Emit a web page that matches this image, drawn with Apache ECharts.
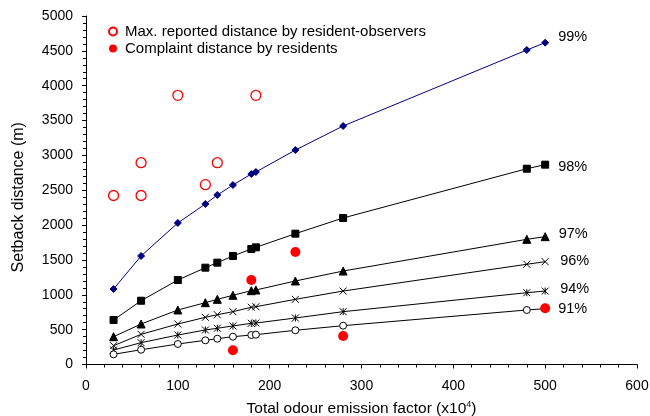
<!DOCTYPE html>
<html><head><meta charset="utf-8">
<script src="https://cdn.jsdelivr.net/npm/echarts@6/dist/echarts.min.js"></script>
<style>html,body{margin:0;padding:0;background:#fff}#c{width:650px;height:416px}</style>
</head><body><div id="c"></div>
<script>
const emission = [30, 60, 100, 130, 143, 160, 180, 185, 228, 280, 480, 500];
const s99 = [1083, 1557, 2031, 2303, 2432, 2575, 2733, 2762, 3077, 3422, 4512, 4617];
const s98 = [638, 915, 1212, 1389, 1461, 1557, 1657, 1681, 1877, 2102, 2809, 2867];
const s97 = [399, 581, 782, 887, 935, 993, 1059, 1069, 1198, 1341, 1796, 1834];
const s96 = [270, 433, 581, 677, 714, 758, 821, 829, 935, 1054, 1438, 1475];
const s94 = [208, 313, 423, 495, 520, 553, 591, 595, 667, 758, 1030, 1054];
const s91 = [146, 212, 294, 347, 370, 399, 423, 428, 491, 557, 782, 801];
const seriesNames = ['99%', '98%', '97%', '96%', '94%', '91%'];
const maxReportedX = [30, 60, 60, 100, 130, 143, 185];
const maxReportedY = [2425, 2425, 2895, 3862, 2580, 2895, 3862];
const complaintX = [160, 180, 228, 280, 500];
const complaintY = [204, 1212, 1614, 409, 806];
const xTicks = [0, 100, 200, 300, 400, 500, 600];
const yTicks = [0, 500, 1000, 1500, 2000, 2500, 3000, 3500, 4000, 4500, 5000];

const FONT = 'Liberation Sans';
const styles = [
  {color: '#000080', symbol: 'diamond', size: 7, dy: -6, fill: '#000080'},
  {color: '#000', symbol: 'rect', size: 7, dy: 2, fill: '#000'},
  {color: '#000', symbol: 'triangle', size: 8, dy: -3, fill: '#000'},
  {color: '#000', symbol: 'path://M0,0L10,10M10,0L0,10', size: 7, dy: -1, fill: 'none'},
  {color: '#000', symbol: 'path://M0,0L10,10M10,0L0,10M5,0L5,10', size: 7, dy: -2, fill: 'none'},
  {color: '#000', symbol: 'circle', size: 7, dy: 0, fill: '#fff'}
];
const allY = [s99, s98, s97, s96, s94, s91];

const lineSeries = allY.map((ys, si) => {
  const st = styles[si];
  const data = emission.map((x, i) => {
    if (i === emission.length - 1) {
      return {value: [x, ys[i]], label: {show: true, position: 'right', distance: 9,
        offset: [0, st.dy], formatter: seriesNames[si], color: '#000', fontSize: 14.5, fontFamily: FONT}};
    }
    return [x, ys[i]];
  });
  return {
    type: 'line', name: seriesNames[si], data: data,
    symbol: st.symbol, symbolSize: st.size, showAllSymbol: true,
    lineStyle: {color: st.color, width: 1},
    itemStyle: {color: st.fill, borderColor: st.color, borderWidth: 1, opacity: 1},
    z: 2, animation: false
  };
});

const option = {
  animation: false,
  textStyle: {fontFamily: FONT},
  grid: {left: 86, right: 13, top: 16, bottom: 51.5, outerBoundsMode: 'none', containLabel: false},
  legend: {
    orient: 'vertical', left: 103, top: 19, itemWidth: 14, itemHeight: 8, itemGap: 2,
    textStyle: {fontFamily: FONT, fontSize: 15, color: '#000', lineHeight: 15},
    data: ['Max. reported distance by resident-observers', 'Complaint distance by residents']
  },
  xAxis: {
    type: 'value', min: 0, max: 600, interval: 100,
    name: 'Total odour emission factor (x10{sup|4})', nameLocation: 'middle', nameGap: 36,
    nameTextStyle: {fontFamily: FONT, fontSize: 15.5, color: '#000',
      rich: {sup: {fontSize: 9, verticalAlign: 'top', padding: [0, 0, 8, 0], fontFamily: FONT, color: '#000'}}},
    axisLine: {lineStyle: {color: '#000', width: 1}},
    axisTick: {length: 4, lineStyle: {color: '#000'}},
    minorTick: {show: true, splitNumber: 5, length: 3, lineStyle: {color: '#000'}},
    splitLine: {show: false},
    axisLabel: {fontSize: 14, color: '#000', margin: 15, fontFamily: FONT,
      formatter: v => xTicks.includes(v) ? String(v) : ''}
  },
  yAxis: {
    type: 'value', min: 0, max: 5000, interval: 500,
    name: 'Setback distance (m)', nameLocation: 'middle', nameGap: 59,
    nameTextStyle: {fontFamily: FONT, fontSize: 16, color: '#000', padding: [0, 14, 0, 0]},
    axisLine: {show: true, lineStyle: {color: '#000', width: 1}},
    axisTick: {show: true, length: 4, lineStyle: {color: '#000'}},
    minorTick: {show: true, splitNumber: 5, length: 3, lineStyle: {color: '#000'}},
    splitLine: {show: false},
    axisLabel: {fontSize: 14, color: '#000', margin: 13, fontFamily: FONT,
      formatter: v => yTicks.includes(v) ? String(v) : ''}
  },
  series: lineSeries.concat([
    {
      type: 'scatter', name: 'Max. reported distance by resident-observers',
      data: maxReportedX.map((x, i) => [x, maxReportedY[i]]),
      symbol: 'circle', symbolSize: 10,
      itemStyle: {color: '#fff', borderColor: '#ff0000', borderWidth: 1.3, opacity: 1}, z: 3
    },
    {
      type: 'scatter', name: 'Complaint distance by residents',
      data: complaintX.map((x, i) => [x, complaintY[i]]),
      symbol: 'circle', symbolSize: 10,
      itemStyle: {color: '#ff0000', opacity: 1}, z: 4
    }
  ])
};
echarts.init(document.getElementById('c'), null, {renderer: 'canvas'}).setOption(option);
</script></body></html>
